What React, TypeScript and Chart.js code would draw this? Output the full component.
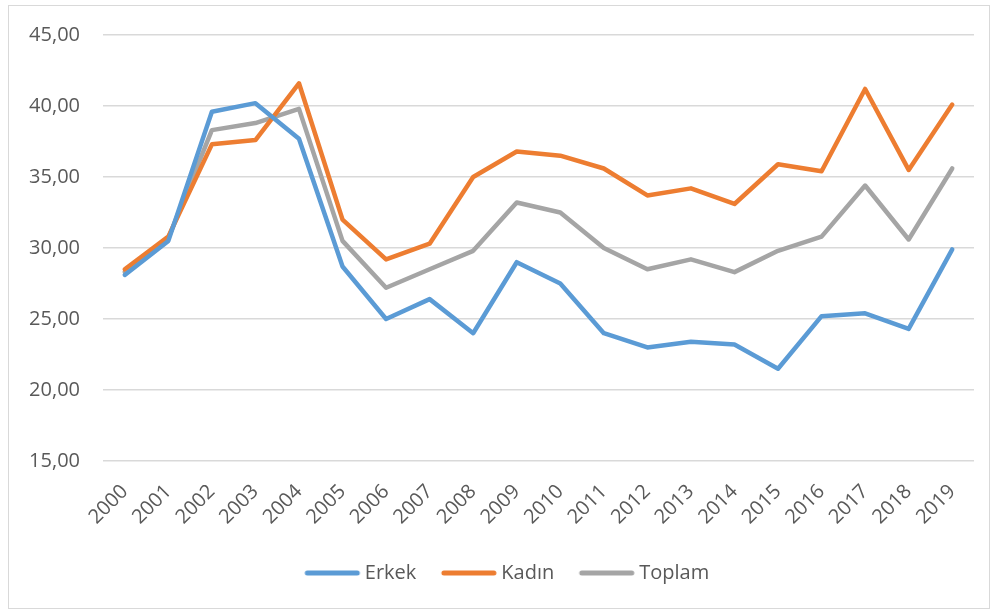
import React, { useEffect, useRef } from "react";
import { Chart, registerables } from "chart.js";

Chart.register(...registerables);

const years = ["2000","2001","2002","2003","2004","2005","2006","2007","2008","2009","2010","2011","2012","2013","2014","2015","2016","2017","2018","2019"];
const erkek = [28.1, 30.5, 39.6, 40.2, 37.7, 28.7, 25.0, 26.4, 24.0, 29.0, 27.5, 24.0, 23.0, 23.4, 23.2, 21.5, 25.2, 25.4, 24.3, 29.9];
const kadin = [28.5, 30.8, 37.3, 37.6, 41.6, 32.0, 29.2, 30.3, 35.0, 36.8, 36.5, 35.6, 33.7, 34.2, 33.1, 35.9, 35.4, 41.2, 35.5, 40.1];
const toplam = [28.3, 30.7, 38.3, 38.8, 39.8, 30.5, 27.2, 28.5, 29.8, 33.2, 32.5, 30.0, 28.5, 29.2, 28.3, 29.8, 30.8, 34.4, 30.6, 35.6];
const seriesNames = ["Erkek", "Kadın", "Toplam"];
const seriesColors = ["#5B9BD5", "#ED7D31", "#A5A5A5"];

function legendLine(color: string): HTMLCanvasElement {
  const c = document.createElement("canvas");
  c.width = 60;
  c.height = 8;
  const ctx = c.getContext("2d")!;
  ctx.strokeStyle = color;
  ctx.lineWidth = 5;
  ctx.lineCap = "round";
  ctx.beginPath();
  ctx.moveTo(5, 4);
  ctx.lineTo(55, 4);
  ctx.stroke();
  return c;
}

const shiftLegend = {
  id: "shiftLegend",
  afterLayout(chart: any) {
    const l = chart.legend;
    if (l) {
      l.left += 13;
      l.right += 13;
    }
  },
};

export default function App() {
  const ref = useRef<HTMLCanvasElement | null>(null);
  useEffect(() => {
    if (!ref.current) return;
    const font = { family: "'Open Sans', sans-serif", size: 20 };
    const mk = (i: number, data: number[]) => ({
      label: seriesNames[i],
      data,
      borderColor: seriesColors[i],
      backgroundColor: seriesColors[i],
      borderWidth: 4.5,
      pointRadius: 0,
      pointHoverRadius: 0,
      pointStyle: legendLine(seriesColors[i]),
      tension: 0,
      borderCapStyle: "round" as const,
      borderJoinStyle: "round" as const,
      fill: false,
    });
    const chart = new Chart(ref.current, {
      type: "line",
      data: {
        labels: years,
        datasets: [mk(0, erkek), mk(1, kadin), mk(2, toplam)],
      },
      plugins: [shiftLegend],
      options: {
        animation: false,
        responsive: false,
        maintainAspectRatio: false,
        layout: { padding: { left: 10, right: 15, top: 29, bottom: 15 } },
        plugins: {
          tooltip: { enabled: false },
          legend: {
            position: "bottom",
            labels: {
              usePointStyle: true,
              pointStyleWidth: 45,
              font,
              color: "#595959",
              padding: 30,
            },
          },
        },
        scales: {
          x: {
            offset: true,
            grid: { display: false, drawTicks: false },
            border: { display: false },
            ticks: { font, color: "#595959", maxRotation: 45, minRotation: 45, padding: 19, autoSkip: false },
            afterFit: (s: any) => { s.height = 72; },
          },
          y: {
            min: 15,
            max: 45,
            grid: { color: "#d9d9d9", lineWidth: 1.5, drawTicks: false },
            border: { display: false },
            ticks: {
              stepSize: 5,
              font,
              color: "#595959",
              padding: 23,
              callback: (v: any) => Number(v).toFixed(2).replace(".", ","),
            },
            afterFit: (s: any) => {
              s.width = 84;
              s.paddingTop = 0;
              s.paddingBottom = 0;
            },
          },
        },
      },
    });
    return () => chart.destroy();
  }, []);
  return (
    <div
      style={{
        position: "absolute",
        left: 8,
        top: 5,
        width: 982,
        height: 604,
        boxSizing: "border-box",
        border: "1px solid #d9d9d9",
        background: "#fff",
      }}
    >
      <canvas ref={ref} width={980} height={602} style={{ display: "block", width: 980, height: 602 }} />
    </div>
  );
}
